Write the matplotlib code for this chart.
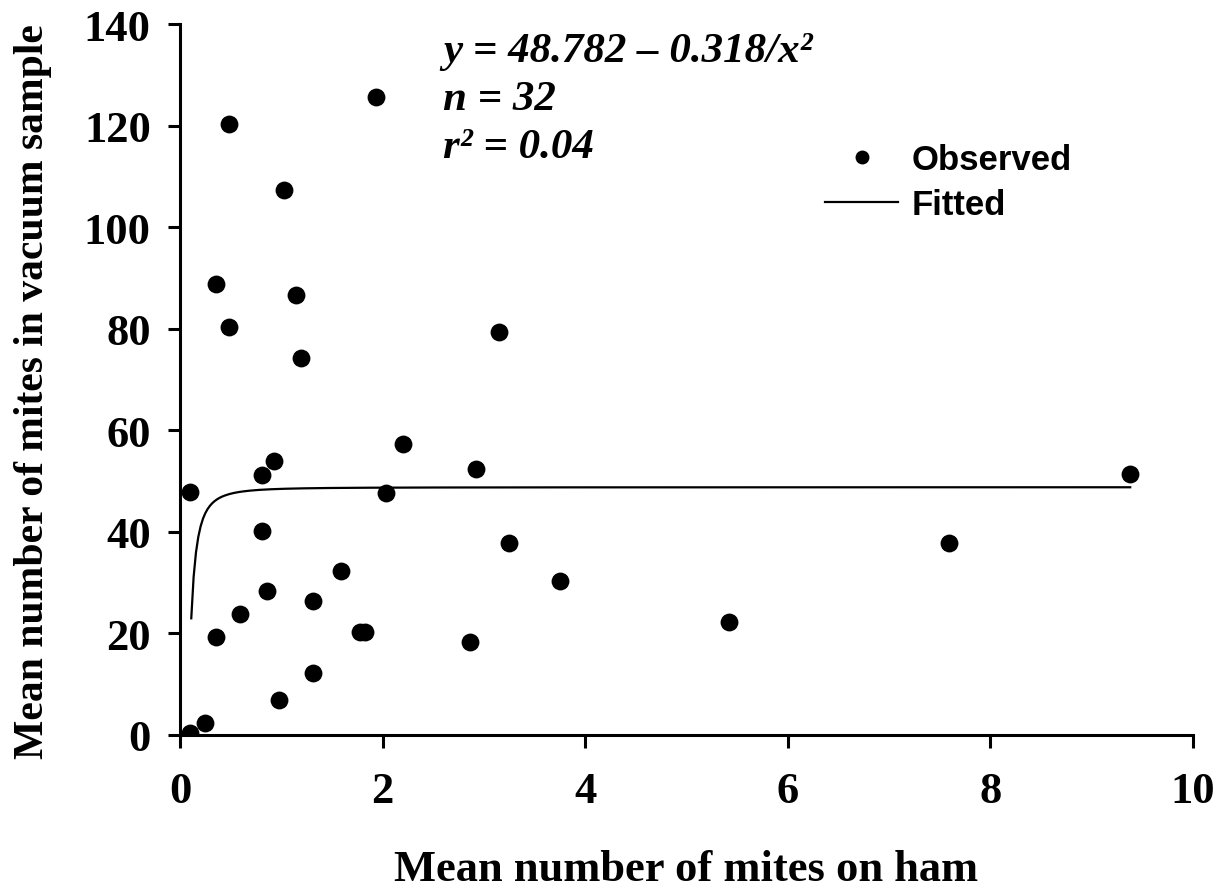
import numpy as np
import matplotlib
matplotlib.use("Agg")
import matplotlib.pyplot as plt
from matplotlib.lines import Line2D

ham_mites = [0.10, 0.10, 0.25, 0.36, 0.36, 0.48, 0.48, 0.59, 0.81, 0.81,
             0.86, 0.93, 0.98, 1.03, 1.14, 1.19, 1.31, 1.31, 1.59, 1.78,
             1.83, 1.93, 2.03, 2.20, 2.86, 2.92, 3.15, 3.25, 3.75, 5.42,
             7.59, 9.38]
vacuum_mites = [0.4, 47.8, 2.4, 19.3, 88.8, 120.3, 80.3, 23.8, 51.2, 40.2,
                28.3, 53.9, 6.8, 107.3, 86.7, 74.2, 26.3, 12.3, 32.2, 20.2,
                20.2, 125.7, 47.6, 57.3, 18.4, 52.4, 79.3, 37.8, 30.3, 22.3,
                37.8, 51.4]

# fitted model y = a - b / x^2
fit_a = 48.782
fit_b = 0.318
fit_x_start = 0.111

x_ticks = [0, 2, 4, 6, 8, 10]
y_ticks = [0, 20, 40, 60, 80, 100, 120, 140]

serif = "Liberation Serif"
sans = "Liberation Sans"

fig = plt.figure(figsize=(12.28, 8.95), dpi=100)
ax = fig.add_axes([0.1466, 0.1777, 0.8249, 0.7943])

ax.scatter(ham_mites, vacuum_mites, s=165, c="black", zorder=3, linewidths=0)

xf = np.linspace(fit_x_start, max(ham_mites), 400)
ax.plot(xf, fit_a - fit_b / xf ** 2, color="black", lw=1.6, zorder=2)

ax.set_xlim(0, 10)
ax.set_ylim(0, 140)
ax.set_xticks(x_ticks)
ax.set_yticks(y_ticks)
for s in ["top", "right"]:
    ax.spines[s].set_visible(False)
for s in ["left", "bottom"]:
    ax.spines[s].set_linewidth(2.2)
ax.tick_params(direction="out", length=9, width=2.2)
ax.tick_params(axis="x", pad=17)
ax.tick_params(axis="y", pad=12)
for lab in ax.get_xticklabels() + ax.get_yticklabels():
    lab.set_fontfamily(serif)
    lab.set_fontweight("bold")
    lab.set_fontsize(32)

ax.set_xlabel("Mean number of mites on ham", fontfamily=serif,
              fontweight="bold", fontsize=32, labelpad=27)
ax.set_ylabel("Mean number of mites in vacuum sample", fontfamily=serif,
              fontweight="bold", fontsize=30)
ax.yaxis.set_label_coords(-0.126, 0.484)

eq_style = dict(fontfamily=serif, fontweight="bold", fontstyle="italic",
                fontsize=31, va="center", ha="left")
fig.text(443 / 1228, 1 - 52 / 895, "y = 48.782 \u2013 0.318/x\u00b2", **eq_style)
fig.text(443 / 1228, 1 - 100 / 895, "n = 32", **eq_style)
fig.text(443 / 1228, 1 - 148 / 895, "r\u00b2 = 0.04", **eq_style)

handles = [Line2D([], [], ls="none", marker="o", ms=9, color="black"),
           Line2D([], [], color="black", lw=1.6)]
ax.legend(handles, ["Observed", "Fitted"], frameon=False,
          loc="upper left", bbox_to_anchor=(0.637, 0.833),
          prop={"family": sans, "weight": "bold", "size": 25},
          handlelength=2.1, handletextpad=0.4, labelspacing=0.36,
          borderpad=0, borderaxespad=0)

fig.savefig("out.png", dpi=100, facecolor="white")
